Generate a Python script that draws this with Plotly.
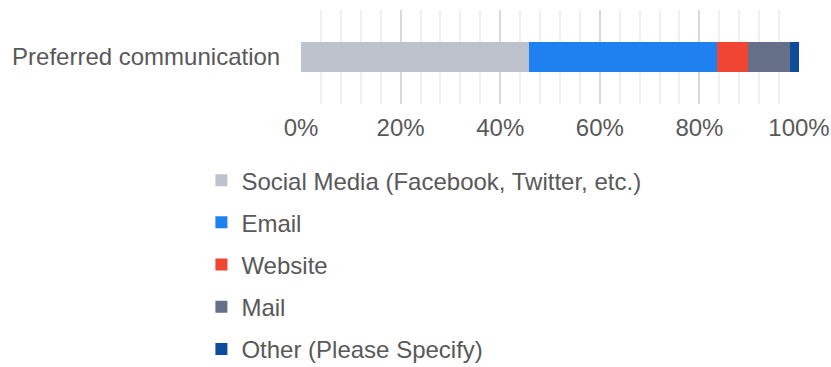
import plotly.graph_objects as go

# Survey: preferred communication channel (share of respondents, %)
category = ["Preferred communication"]
channels = [
    "Social Media (Facebook, Twitter, etc.)",
    "Email",
    "Website",
    "Mail",
    "Other (Please Specify)",
]
shares = [45.8, 37.8, 6.2, 8.4, 1.8]
colors = ["#BEC2CC", "#1F80F0", "#F04533", "#656F88", "#0B4C9B"]
tick_vals = [0, 20, 40, 60, 80, 100]
tick_text = ["0%", "20%", "40%", "60%", "80%", "100%"]

text_color = "#595959"
font_family = "Liberation Sans, Arial, sans-serif"
font_size = 24

fig = go.Figure()
for i, (name, val, col) in enumerate(zip(channels, shares, colors)):
    fig.add_trace(go.Bar(
        y=category,
        x=[val],
        name=name,
        orientation="h",
        marker=dict(color=col, line=dict(width=0)),
        width=0.32,
        legendgroup=f"g{i}",
        hovertemplate="%{x:.1f}%<extra>" + name + "</extra>",
    ))

fig.update_layout(
    barmode="stack",
    width=831,
    height=367,
    margin=dict(l=301, r=32, t=10, b=263, autoexpand=False),
    paper_bgcolor="white",
    plot_bgcolor="white",
    font=dict(family=font_family, size=font_size, color=text_color),
    xaxis=dict(
        range=[0, 100],
        tickvals=tick_vals,
        ticktext=tick_text,
        showgrid=True,
        gridcolor="#D9D9D9",
        gridwidth=1.5,
        zeroline=False,
        showline=False,
        ticks="outside",
        ticklen=0,
        ticklabelstandoff=2,
        minor=dict(dtick=4, showgrid=True, gridcolor="#F0F0F0", gridwidth=1.5),
        tickfont=dict(size=font_size, color=text_color),
        fixedrange=True,
        automargin=False,
    ),
    yaxis=dict(
        range=[-0.5, 0.5],
        showgrid=False,
        zeroline=False,
        showline=False,
        ticks="outside",
        ticklen=0,
        ticklabelstandoff=15,
        tickfont=dict(size=font_size, color=text_color),
        fixedrange=True,
        automargin=False,
    ),
    legend=dict(
        orientation="v",
        x=-0.2,
        xanchor="left",
        y=-0.575,
        yanchor="top",
        traceorder="grouped",
        tracegroupgap=8,
        itemwidth=30,
        maxheight=400,
        font=dict(size=font_size, color=text_color),
        bgcolor="rgba(0,0,0,0)",
    ),
    showlegend=True,
)

fig.write_html("out.html")
